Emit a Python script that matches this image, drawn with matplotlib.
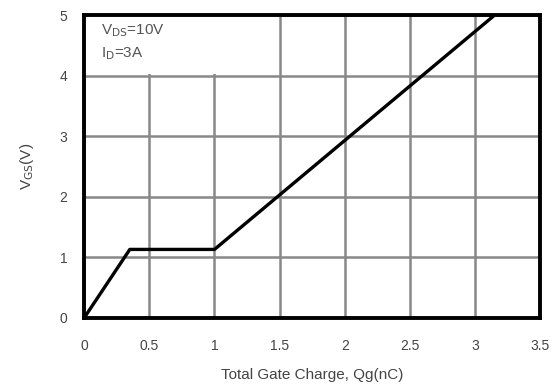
import matplotlib.pyplot as plt
from matplotlib.patches import Rectangle

plt.rcParams['font.family'] = ['Liberation Sans', 'DejaVu Sans']

# gate charge curve (nC, V)
qg = [0, 0.35, 1.0, 3.15]
vgs = [0, 1.13, 1.13, 5.0]

xticks = [0, 0.5, 1, 1.5, 2, 2.5, 3, 3.5]
xlabels = ['0', '0.5', '1', '1.5', '2', '2.5', '3', '3.5']
yticks = [0, 1, 2, 3, 4, 5]

fig = plt.figure(figsize=(5.54, 3.89), dpi=100)
ax = fig.add_axes([0.152, 0.183, 0.823, 0.778])

ax.plot(qg, vgs, color='black', lw=2.4, solid_capstyle='butt', zorder=3)

ax.set_xlim(0, 3.5)
ax.set_ylim(0, 5)
ax.set_xticks(xticks)
ax.set_xticklabels(xlabels)
ax.set_yticks(yticks)
ax.grid(True, color='#888888', lw=1.8)
ax.tick_params(length=0, labelsize=10, labelcolor='#444444')
ax.tick_params(axis='x', pad=15)
ax.tick_params(axis='y', pad=12)
for s in ax.spines.values():
    s.set_linewidth(2.8)
    s.set_color('black')

ax.set_xlabel('Total Gate Charge, Qg(nC)', fontsize=11, color='#444444', labelpad=11)
ax.set_ylabel('V$_{\\mathrm{GS}}$(V)', fontsize=11, color='#444444', labelpad=17)

# white box behind the conditions text
ax.add_patch(Rectangle((0, 4.025), 1.49, 0.975, facecolor='white', edgecolor='none', zorder=2))
ax.text(0.13, 4.88, 'V$_{\\mathrm{DS}}$=10V\nI$_{\\mathrm{D}}$=3A', fontsize=11,
        color='#555555', va='top', ha='left', linespacing=1.55, zorder=4)

fig.savefig('out.png', dpi=100)
